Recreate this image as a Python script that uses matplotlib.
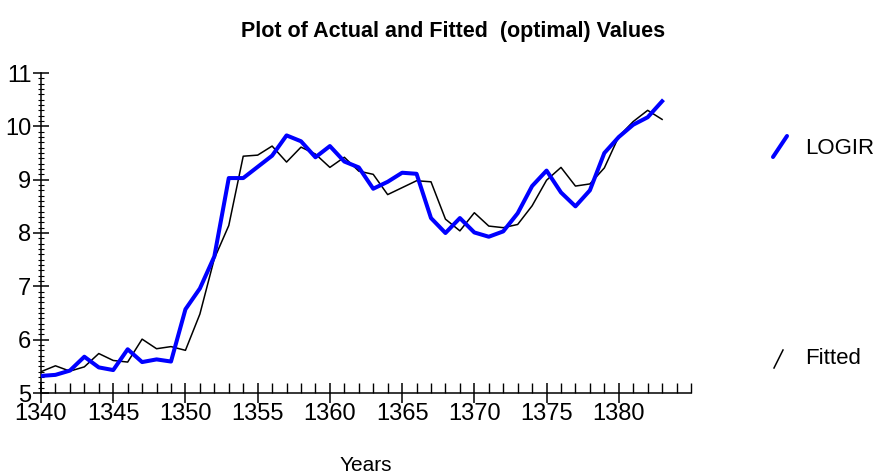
import numpy as np
import matplotlib.pyplot as plt
from matplotlib.lines import Line2D
from matplotlib.ticker import MultipleLocator

plt.rcParams['font.family'] = ['Liberation Sans', 'DejaVu Sans']

years = np.arange(1340, 1384)
logir = [5.32, 5.34, 5.42, 5.68, 5.48, 5.43, 5.82, 5.58, 5.63, 5.59,
         6.57, 6.96, 7.56, 9.03, 9.03, 9.24, 9.45, 9.83, 9.72, 9.42,
         9.63, 9.34, 9.23, 8.83, 8.96, 9.13, 9.11, 8.28, 8.00, 8.28,
         8.01, 7.93, 8.03, 8.37, 8.88, 9.17, 8.76, 8.50, 8.80, 9.50,
         9.80, 10.03, 10.17, 10.47]
fitted = [5.40, 5.51, 5.41, 5.49, 5.74, 5.61, 5.58, 6.01, 5.83, 5.87,
          5.80, 6.48, 7.52, 8.14, 9.44, 9.46, 9.63, 9.33, 9.61, 9.48,
          9.23, 9.42, 9.16, 9.10, 8.72, 8.85, 8.98, 8.96, 8.26, 8.04,
          8.38, 8.13, 8.10, 8.16, 8.51, 8.99, 9.23, 8.88, 8.92, 9.22,
          9.81, 10.09, 10.30, 10.13]

W, H = 877, 476
fig = plt.figure(figsize=(W / 100, H / 100), dpi=100)
ax = fig.add_axes([41 / W, 1 - 393 / H, 650 / W, 320 / H])

ax.plot(years, fitted, color='black', lw=1.1, zorder=2)
ax.plot(years, logir, color='#0000ff', lw=2.9, zorder=3)

ax.set_xlim(1340, 1385)
ax.set_ylim(5, 11)
ax.spines['top'].set_visible(False)
ax.spines['right'].set_visible(False)
for s in ['left', 'bottom']:
    ax.spines[s].set_linewidth(1.1)

ax.set_xticks(np.arange(1340, 1385, 5))
ax.xaxis.set_minor_locator(MultipleLocator(1))
ax.set_yticks(np.arange(5, 12, 1))
ax.yaxis.set_minor_locator(MultipleLocator(0.1))

ax.tick_params(axis='x', which='major', direction='inout', length=15, width=1.1,
               labelsize=17, pad=0)
ax.tick_params(axis='x', which='minor', direction='in', length=7, width=1.0)
ax.tick_params(axis='y', which='major', direction='inout', length=12, width=1.1,
               labelsize=17, pad=1)
ax.tick_params(axis='y', which='minor', direction='inout', length=5, width=0.8)

ax.set_xlabel('Years', fontsize=15, labelpad=22)

fig.text(453 / W, 1 - 32 / H, 'Plot of Actual and Fitted  (optimal) Values',
         ha='center', va='center', fontsize=15.5, fontweight='bold')

# legend glyphs
fig.add_artist(Line2D([773 / W, 787 / W], [1 - 157 / H, 1 - 136 / H],
                      color='#0000ff', lw=2.9, solid_capstyle='round'))
fig.text(805 / W, 1 - 148 / H, 'LOGIR', ha='left', va='center', fontsize=16)
fig.add_artist(Line2D([774 / W, 783 / W], [1 - 368 / H, 1 - 350 / H],
                      color='black', lw=1.1))
fig.text(805 / W, 1 - 359 / H, 'Fitted', ha='left', va='center', fontsize=16)

fig.savefig('out.png', dpi=100)
